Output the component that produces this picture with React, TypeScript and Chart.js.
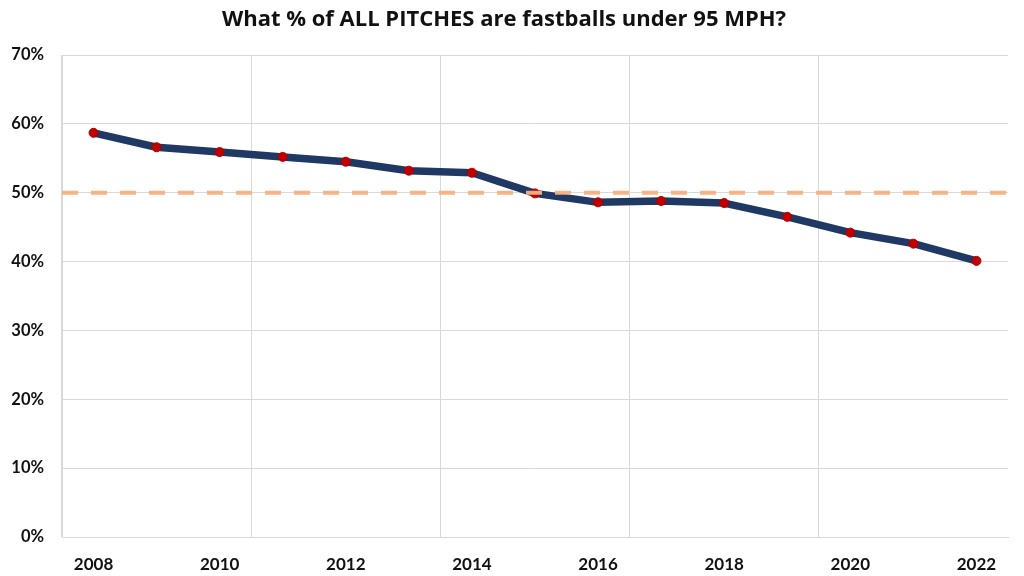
import React, { useEffect, useRef } from "react";
import { Chart, registerables } from "chart.js";

Chart.register(...registerables);

const years = ["2008", "2009", "2010", "2011", "2012", "2013", "2014", "2015", "2016", "2017", "2018", "2019", "2020", "2021", "2022"];
const pctUnder95 = [58.7, 56.6, 55.9, 55.2, 54.5, 53.2, 52.9, 49.9, 48.6, 48.8, 48.5, 46.5, 44.2, 42.6, 40.1];
const referenceLevel = 50;
const yTicksMax = 70;
const yTickStep = 10;
const titleText = "What % of ALL PITCHES are fastballs under 95 MPH?";

const FONT = "Lato, 'Open Sans', sans-serif";
const TITLE_FONT = "'Open Sans', Lato, sans-serif";

export default function App() {
  const ref = useRef<HTMLCanvasElement | null>(null);

  useEffect(() => {
    if (!ref.current) return;
    const chart = new Chart(ref.current, {
      type: "line",
      data: {
        labels: years,
        datasets: [
          {
            label: "% under 95 MPH",
            data: pctUnder95,
            borderColor: "#1F3864",
            borderWidth: 7.5,
            borderJoinStyle: "round",
            borderCapStyle: "round",
            pointRadius: 4.5,
            pointBackgroundColor: "#C00000",
            pointBorderColor: "#B00000",
            pointBorderWidth: 1,
            tension: 0,
            fill: false,
            xAxisID: "x",
            order: 2,
          },
          {
            label: "50%",
            data: [
              { x: 0, y: referenceLevel },
              { x: 1, y: referenceLevel },
            ],
            borderColor: "rgba(244,177,131,0.95)",
            borderWidth: 4,
            borderDash: [16, 13],
            pointRadius: 0,
            fill: false,
            xAxisID: "x2",
            order: 1,
          },
        ] as any,
      },
      options: {
        animation: false,
        responsive: false,
        maintainAspectRatio: false,
        layout: { padding: { left: 0, right: 16, top: 0, bottom: 0 } },
        plugins: {
          legend: { display: false },
          tooltip: { enabled: false },
          title: {
            display: true,
            text: titleText,
            color: "#111111",
            font: { family: TITLE_FONT, size: 22, weight: "bold", lineHeight: 1.2 },
            padding: { top: 7, bottom: 21.6 },
          },
        },
        scales: {
          x: {
            type: "category",
            offset: true,
            grid: {
              offset: true,
              drawTicks: false,
              color: (ctx: any) => (ctx.index % 3 === 0 ? "#D9D9D9" : "rgba(0,0,0,0)"),
              lineWidth: 1,
            },
            border: { display: true, color: "#D9D9D9" },
            ticks: {
              autoSkip: false,
              maxRotation: 0,
              padding: 17,
              color: "#111111",
              font: { family: FONT, size: 17, weight: "bold" },
              callback: (_v: any, i: number) => (i % 2 === 0 ? years[i] : ""),
            },
            afterFit: (scale: any) => {
              scale.height = 39;
            },
          },
          x2: {
            type: "linear",
            display: false,
            min: 0,
            max: 1,
          },
          y: {
            min: 0,
            max: yTicksMax,
            grid: { color: "#D9D9D9", drawTicks: false },
            border: { display: true, color: "#D9D9D9" },
            ticks: {
              stepSize: yTickStep,
              padding: 18,
              color: "#111111",
              font: { family: FONT, size: 16.5, weight: "bold" },
              callback: (v: any) => `${v}%`,
            },
            afterFit: (scale: any) => {
              scale.width = 62;
            },
          },
        },
      } as any,
    });
    return () => chart.destroy();
  }, []);

  return (
    <div style={{ position: "fixed", left: 0, top: 0, width: 1024, height: 576, background: "#ffffff" }}>
      <canvas ref={ref} width={1024} height={576} style={{ width: 1024, height: 576 }} />
    </div>
  );
}
